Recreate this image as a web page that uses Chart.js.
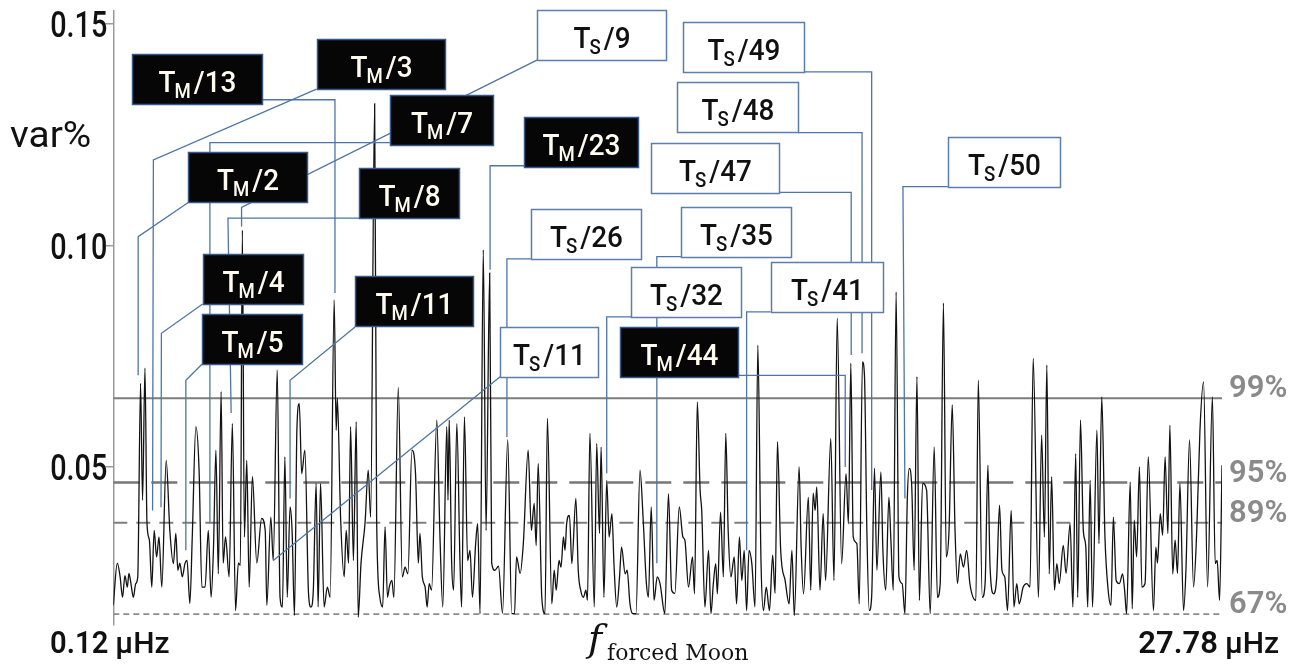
<!DOCTYPE html>
<html>
<head>
<meta charset="utf-8">
<title>Forced Moon spectrum</title>
<script src="https://cdn.jsdelivr.net/npm/chart.js@4.4.1/dist/chart.umd.min.js"></script>
<style>
  html, body { margin: 0; padding: 0; background: #ffffff; }
  #wrap { position: relative; width: 1299px; height: 666px; }
</style>
</head>
<body>
<div id="wrap"><canvas id="chart"></canvas></div>
<script>
// Spectrum: frequency (µHz) and variance share (var%)
const freq = [
  0.12,0.22,0.29,0.35,0.41,0.47,0.51,0.56,0.62,0.68,0.73,0.80,0.85,0.91,0.96,1.02,1.08,1.14,1.20,1.26,
  1.33,1.44,1.53,1.62,1.68,1.73,1.78,1.84,1.91,1.96,2.03,2.09,2.18,2.26,2.33,2.41,2.49,2.56,2.62,2.68,
  2.74,2.81,2.86,2.92,3.01,3.09,3.17,3.24,3.29,3.34,3.39,3.45,3.51,3.59,3.70,3.82,3.91,3.95,4.05,4.11,
  4.21,4.28,4.34,4.40,4.46,4.53,4.58,4.64,4.70,4.76,4.82,4.90,4.99,5.05,5.11,5.18,5.23,5.29,5.38,5.46,
  5.53,5.63,5.68,5.71,5.79,5.88,5.93,5.99,6.04,6.11,6.18,6.23,6.30,6.40,6.48,6.54,6.64,6.69,6.77,6.84,
  6.90,6.96,7.01,7.07,7.12,7.23,7.33,7.40,7.47,7.57,7.66,7.73,7.77,7.83,7.90,7.95,8.00,8.06,8.19,8.27,
  8.34,8.44,8.47,8.50,8.56,8.61,8.69,8.77,8.81,8.88,8.96,9.02,9.08,9.16,9.21,9.27,9.35,9.42,9.51,9.56,
  9.64,9.73,9.83,9.96,10.06,10.13,10.18,10.27,10.35,10.47,10.55,10.62,10.67,10.72,10.81,10.89,10.95,11.06,11.12,11.17,
  11.24,11.29,11.35,11.39,11.43,11.50,11.56,11.66,11.72,11.78,11.85,11.91,11.95,12.01,12.12,12.18,12.25,12.29,12.36,12.43,
  12.49,12.56,12.61,12.68,12.75,12.80,12.89,12.94,13.01,13.08,13.16,13.26,13.34,13.42,13.47,13.54,13.61,13.69,13.76,13.88,
  13.97,14.05,14.13,14.24,14.33,14.38,14.47,14.57,14.62,14.69,14.76,14.80,14.88,14.97,15.03,15.09,15.15,15.19,15.27,15.34,
  15.40,15.46,15.53,15.61,15.67,15.74,15.80,15.86,15.92,15.98,16.05,16.13,16.20,16.28,16.34,16.41,16.49,16.57,16.63,16.69,
  16.77,16.88,16.98,17.05,17.11,17.23,17.28,17.34,17.46,17.52,17.58,17.63,17.67,17.75,17.83,17.89,18.02,18.10,18.18,18.29,
  18.40,18.46,18.52,18.58,18.67,18.73,18.81,18.86,18.92,18.98,19.04,19.11,19.17,19.27,19.32,19.39,19.47,19.52,19.58,19.65,
  19.72,19.80,19.87,19.93,19.98,20.04,20.10,20.17,20.23,20.31,20.41,20.50,20.60,20.68,20.75,20.83,20.90,20.97,21.05,21.12,
  21.18,21.25,21.33,21.41,21.49,21.64,21.70,21.80,21.87,21.94,21.99,22.08,22.16,22.23,22.29,22.36,22.43,22.52,22.59,22.66,
  22.72,22.82,22.91,22.99,23.07,23.20,23.28,23.35,23.41,23.47,23.53,23.60,23.66,23.72,23.82,23.89,23.99,24.06,24.13,24.18,
  24.25,24.32,24.38,24.43,24.49,24.55,24.66,24.71,24.78,24.86,24.94,25.01,25.07,25.14,25.22,25.30,25.35,25.40,25.49,25.54,
  25.59,25.65,25.72,25.78,25.86,25.94,26.07,26.13,26.17,26.24,26.30,26.36,26.43,26.48,26.55,26.61,26.67,26.73,26.82,26.88,
  26.97,27.07,27.15,27.23,27.32,27.42,27.54,27.61,27.66,27.72,27.78
];
const variance = [
  0.0188,0.0283,0.0252,0.0206,0.0255,0.0229,0.0260,0.0237,0.0206,0.0237,0.0252,0.0689,0.0425,0.0723,0.0373,0.0335,0.0229,0.0357,0.0297,0.0342,
  0.0229,0.0515,0.0357,0.0282,0.0350,0.0267,0.0283,0.0252,0.0283,0.0289,0.0192,0.0342,0.0591,0.0493,0.0229,0.0229,0.0357,0.0206,0.0319,0.0538,
  0.0259,0.0670,0.0283,0.0342,0.0252,0.0598,0.0176,0.0283,0.0278,0.1035,0.0342,0.0515,0.0229,0.0479,0.0283,0.0384,0.0357,0.0188,0.0387,0.0289,
  0.0719,0.0206,0.0184,0.0523,0.0206,0.0410,0.0357,0.0165,0.0583,0.0643,0.0485,0.0538,0.0215,0.0184,0.0222,0.0463,0.0184,0.0463,0.0184,0.0229,
  0.0206,0.0877,0.0583,0.0655,0.0387,0.0252,0.0357,0.0283,0.0591,0.0289,0.0602,0.0161,0.0283,0.0373,0.0493,0.0387,0.1320,0.0380,0.0206,0.0184,
  0.0365,0.0206,0.0231,0.0244,0.0206,0.0680,0.0252,0.0274,0.0259,0.0538,0.0485,0.0283,0.0350,0.0252,0.0229,0.0184,0.0237,0.0222,0.0606,0.0342,
  0.0184,0.0591,0.0425,0.0606,0.0289,0.0222,0.0598,0.0282,0.0184,0.0613,0.0289,0.0312,0.0206,0.0327,0.0372,0.0169,0.0990,0.0357,0.0938,0.0283,
  0.0267,0.0276,0.0170,0.0561,0.0169,0.0169,0.0297,0.0260,0.0328,0.0538,0.0357,0.0418,0.0323,0.0508,0.0206,0.0169,0.0610,0.0191,0.0267,0.0222,
  0.0289,0.0274,0.0342,0.0312,0.0372,0.0391,0.0282,0.0429,0.0267,0.0222,0.0206,0.0222,0.0199,0.0576,0.0184,0.0553,0.0350,0.0545,0.0206,0.0470,
  0.0342,0.0395,0.0283,0.0184,0.0252,0.0319,0.0259,0.0267,0.0191,0.0169,0.0169,0.0493,0.0380,0.0237,0.0206,0.0410,0.0199,0.0252,0.0237,0.0169,
  0.0440,0.0222,0.0215,0.0410,0.0342,0.0335,0.0229,0.0297,0.0214,0.0647,0.0448,0.0402,0.0184,0.0312,0.0169,0.0237,0.0282,0.0214,0.0398,0.0252,
  0.0576,0.0357,0.0252,0.0297,0.0191,0.0342,0.0244,0.0312,0.0176,0.0312,0.0282,0.0184,0.0775,0.0282,0.0176,0.0229,0.0176,0.0301,0.0215,0.0557,
  0.0312,0.0244,0.0191,0.0312,0.0165,0.0500,0.0319,0.0214,0.0432,0.0222,0.0441,0.0402,0.0455,0.0222,0.0395,0.0244,0.0564,0.0244,0.0836,0.0282,
  0.0485,0.0372,0.0734,0.0342,0.0327,0.0191,0.0737,0.0707,0.0357,0.0176,0.0208,0.0497,0.0267,0.0489,0.0312,0.0222,0.0432,0.0334,0.0222,0.0895,
  0.0252,0.0237,0.0169,0.0432,0.0497,0.0455,0.0267,0.0704,0.0199,0.0463,0.0448,0.0169,0.0545,0.0206,0.0237,0.0870,0.0297,0.0357,0.0640,0.0357,
  0.0237,0.0304,0.0274,0.0312,0.0237,0.0199,0.0696,0.0206,0.0237,0.0504,0.0283,0.0214,0.0252,0.0414,0.0267,0.0252,0.0176,0.0402,0.0184,0.0237,
  0.0191,0.0229,0.0237,0.0229,0.0745,0.0206,0.0572,0.0342,0.0730,0.0259,0.0478,0.0222,0.0282,0.0237,0.0323,0.0260,0.0372,0.0184,0.0530,0.0206,
  0.0606,0.0357,0.0323,0.0184,0.0470,0.0184,0.0583,0.0327,0.0658,0.0342,0.0222,0.0188,0.0387,0.0244,0.0237,0.0259,0.0222,0.0169,0.0466,0.0180,
  0.0380,0.0297,0.0500,0.0229,0.0237,0.0523,0.0176,0.0319,0.0283,0.0395,0.0346,0.0523,0.0350,0.0594,0.0259,0.0335,0.0260,0.0463,0.0176,0.0267,
  0.0561,0.0229,0.0357,0.0583,0.0692,0.0229,0.0658,0.0282,0.0289,0.0199,0.0504
];

// Significance levels
const levelValues = [0.0655, 0.0465, 0.0374, 0.0168];
const levelNames  = ['99%', '95%', '89%', '67%'];

// Axes
const freqRange   = [0.12, 27.78];
const freqEndText = ['0.12', '27.78'];
const varTicks    = [0.05, 0.10, 0.15];
const varRange    = [0.0145, 0.153];

// Tidal period tags: kind (M = Moon, S = Sun), divisor, box extent, leader path
const tagKind    = ['M','M','M','M','M','M','M','M','S','M','S','S','S','S','M','S','S','S','S','S'];
const tagDivisor = [13, 3, 7, 2, 8, 4, 11, 5, 9, 23, 26, 11, 32, 35, 44, 49, 48, 47, 41, 50];
const tagLeft    = [0.58,5.19,7.02,1.99,6.25,2.35,6.15,2.33,10.70,10.37,10.54,9.77,13.04,14.28,12.76,14.34,14.18,13.54,16.52,20.94];
const tagRight   = [3.82,8.40,9.59,4.95,8.75,4.85,9.10,4.82,13.90,13.20,13.29,12.21,15.78,17.03,15.71,17.36,17.20,16.74,19.33,23.74];
const tagTop     = [0.1432,0.1466,0.1340,0.1211,0.1176,0.0981,0.0931,0.0845,0.1532,0.1291,0.1083,0.0817,0.0952,0.1088,0.0817,0.1504,0.1368,0.1231,0.0963,0.1245];
const tagLeader  = [
  [[3.83,0.1329],[5.65,0.1329],[5.65,0.0893]],
  [[5.19,0.1353],[1.12,0.1193],[1.10,0.0402]],
  [[7.02,0.1232],[2.53,0.1232],[2.53,0.0373]],
  [[1.99,0.1097],[0.74,0.1020],[0.74,0.0707]],
  [[6.25,0.1062],[2.98,0.1062],[3.06,0.0622]],
  [[2.35,0.0868],[1.32,0.0802],[1.31,0.0409]],
  [[6.15,0.0816],[4.53,0.0696],[4.53,0.0429]],
  [[2.33,0.0732],[1.93,0.0696],[1.93,0.0312]],
  [[10.70,0.1419],[3.32,0.1086],[3.32,0.1043]],
  [[10.37,0.1180],[9.52,0.1180],[9.52,0.0945]],
  [[10.54,0.0970],[9.94,0.0970],[9.94,0.0568]],
  [[9.77,0.0704],[4.11,0.0289]],
  [[13.04,0.0839],[12.43,0.0839],[12.43,0.0486]],
  [[14.28,0.0975],[13.68,0.0975],[13.68,0.0283]],
  [[15.71,0.0707],[18.38,0.0707],[18.38,0.0500]],
  [[17.36,0.1392],[19.04,0.1392],[19.04,0.0448]],
  [[17.20,0.1255],[18.80,0.1255],[18.80,0.0757]],
  [[16.74,0.1120],[18.53,0.1120],[18.53,0.0753]],
  [[16.52,0.0850],[15.92,0.0850],[15.92,0.0312]],
  [[20.94,0.1133],[19.82,0.1133],[19.87,0.0429]]
];

const levelStyles = [
  { color: '#7c7c7c', width: 2.0, dash: [] },
  { color: '#777777', width: 2.4, dash: [26, 12] },
  { color: '#7f7f7f', width: 2.0, dash: [14, 9] },
  { color: '#8c8c8c', width: 1.6, dash: [6, 4] }
];

// draws text squeezed horizontally; returns the drawn width
function squeezedText(ctx, text, x, y, font, sx, align) {
  ctx.save();
  ctx.font = font;
  const w = ctx.measureText(text).width * sx;
  const x0 = align === 'right' ? x - w : align === 'center' ? x - w / 2 : x;
  ctx.translate(x0, y);
  ctx.scale(sx, 1);
  ctx.textAlign = 'left';
  ctx.textBaseline = 'alphabetic';
  ctx.fillText(text, 0, 0);
  ctx.restore();
  return w;
}

const decorations = {
  id: 'decorations',
  afterDatasetsDraw(chart) {
    const ctx = chart.ctx;
    const xs = chart.scales.x, ys = chart.scales.y;
    // leader lines
    ctx.save();
    ctx.strokeStyle = '#4f75a6';
    ctx.lineWidth = 1.3;
    tagLeader.forEach(path => {
      ctx.beginPath();
      path.forEach((p, i) => {
        const X = xs.getPixelForValue(p[0]), Y = ys.getPixelForValue(p[1]);
        if (i === 0) ctx.moveTo(X, Y); else ctx.lineTo(X, Y);
      });
      ctx.stroke();
    });
    ctx.restore();
    // tag boxes
    const sx = 0.93;
    const mainFont = '500 30px Roboto';
    const subFont = '500 20px Roboto';
    tagKind.forEach((kind, i) => {
      const x0 = Math.round(xs.getPixelForValue(tagLeft[i])) + 0.5;
      const x1 = Math.round(xs.getPixelForValue(tagRight[i])) + 0.5;
      const y0 = Math.round(ys.getPixelForValue(tagTop[i])) + 0.5;
      const h = 50;
      const dark = kind === 'M';
      ctx.save();
      ctx.fillStyle = dark ? '#060606' : '#ffffff';
      ctx.fillRect(x0, y0, x1 - x0, h);
      ctx.strokeStyle = dark ? '#36588a' : '#5b7eac';
      ctx.lineWidth = 1.5;
      ctx.strokeRect(x0, y0, x1 - x0, h);
      ctx.fillStyle = dark ? '#fffcef' : '#111111';
      ctx.font = mainFont;
      const wT = ctx.measureText('T').width * sx;
      const rest = '/' + tagDivisor[i];
      const wR = ctx.measureText(rest).width * sx;
      ctx.font = subFont;
      const wS = ctx.measureText(kind).width * sx;
      const total = wT + wS + 2 + wR;
      let x = (x0 + x1) / 2 - total / 2;
      const base = y0 + 37;
      squeezedText(ctx, 'T', x, base, mainFont, sx, 'left');
      x += wT - 1;
      squeezedText(ctx, kind, x, base + 6, subFont, sx, 'left');
      x += wS + 3;
      squeezedText(ctx, rest, x, base, mainFont, sx, 'left');
      ctx.restore();
    });
  },
  afterDraw(chart) {
    const ctx = chart.ctx;
    const xs = chart.scales.x, ys = chart.scales.y;
    const area = chart.chartArea;
    ctx.save();
    // value axis labels
    ctx.fillStyle = '#111111';
    varTicks.forEach(v => {
      const Y = ys.getPixelForValue(v);
      squeezedText(ctx, v.toFixed(2), area.left - 6, Y + 13, '500 36px Roboto', 0.8, 'right');
    });
    squeezedText(ctx, 'var%', 10, 147, '400 37px Roboto', 1.05, 'left');
    // frequency ends
    const yb = 653;
    const xl = xs.getPixelForValue(freqRange[0]);
    const xr = xs.getPixelForValue(freqRange[1]);
    squeezedText(ctx, freqEndText[0], xl - 5, yb, '600 31px Roboto', 0.94, 'right');
    squeezedText(ctx, 'µHz', xl + 2, yb, '500 30px Roboto', 1.0, 'left');
    squeezedText(ctx, freqEndText[1], xr - 4, yb, '600 31px Roboto', 1.0, 'right');
    squeezedText(ctx, 'µHz', xr + 3, yb, '500 30px Roboto', 1.0, 'left');
    // axis title
    ctx.font = 'italic 38px "DejaVu Serif"';
    ctx.textAlign = 'left';
    ctx.fillText('f', 588, 651);
    ctx.font = '22px "DejaVu Serif"';
    ctx.fillText('forced Moon', 607, 660);
    // significance labels
    ctx.fillStyle = '#8a8a8a';
    levelValues.forEach((v, i) => {
      const Y = ys.getPixelForValue(v);
      squeezedText(ctx, levelNames[i], area.right + 7, Y - 1, '600 31px Roboto', 1.0, 'left');
    });
    ctx.restore();
  }
};

const datasets = [{
  label: 'spectrum',
  data: freq.map((f, i) => ({ x: f, y: variance[i] })),
  borderColor: '#121212',
  borderWidth: 1.3,
  pointRadius: 0,
  cubicInterpolationMode: 'monotone',
  order: 0
}].concat(levelValues.map((v, i) => ({
  label: levelNames[i],
  data: [{ x: freqRange[0], y: v }, { x: freqRange[1], y: v }],
  borderColor: levelStyles[i].color,
  borderWidth: levelStyles[i].width,
  borderDash: levelStyles[i].dash,
  pointRadius: 0,
  order: 1
})));

new Chart(document.getElementById('chart'), {
  type: 'line',
  data: { datasets },
  options: {
    responsive: true,
    maintainAspectRatio: false,
    devicePixelRatio: 1,
    animation: false,
    layout: { padding: { left: 0, right: 77, top: 10.7, bottom: 41.7 } },
    plugins: { legend: { display: false }, tooltip: { enabled: false } },
    scales: {
      x: { type: 'linear', min: freqRange[0], max: freqRange[1], display: false },
      y: {
        min: varRange[0], max: varRange[1],
        afterBuildTicks: s => { s.ticks = varTicks.map(v => ({ value: v })); },
        afterFit: s => { s.width = 113.3; },
        grid: { drawOnChartArea: false, drawTicks: true, tickLength: 8, color: '#9a9a9a', lineWidth: 1.5 },
        border: { display: true, color: '#9a9a9a', width: 1.5 },
        ticks: { color: 'rgba(0,0,0,0)', font: { size: 10 } }
      }
    }
  },
  plugins: [decorations]
});
</script>
</body>
</html>
